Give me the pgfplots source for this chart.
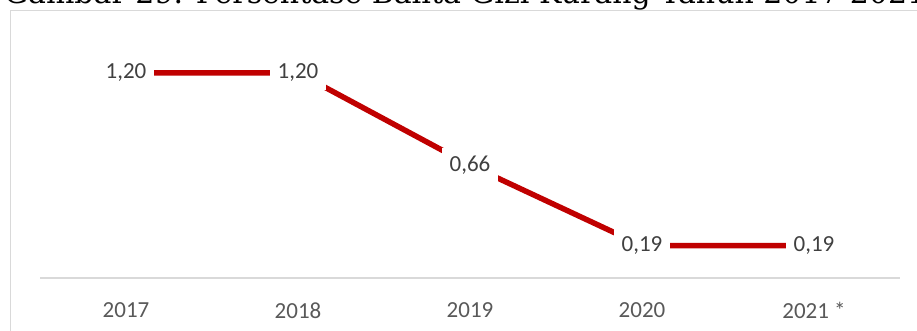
\documentclass[border=0pt]{standalone}
\usepackage{pgfplots}
\pgfplotsset{compat=1.18}
\usepackage{fontspec}
\setmainfont{Carlito}
\newfontfamily\titlefont{DejaVu Serif}
\definecolor{linered}{HTML}{C00000}
\definecolor{labelgray}{HTML}{404040}
\definecolor{tickgray}{HTML}{595959}
\definecolor{framegray}{HTML}{D9D9D9}

\begin{document}
\begin{tikzpicture}[x=1bp,y=1bp]
\useasboundingbox (0,0) rectangle (917,330);
\clip (0,0) rectangle (917,330);
% chart frame (only left and top edges are in view)
\draw[framegray, line width=1.2bp] (10.5,-10) -- (10.5,319.5) -- (930,319.5);
% title, cut off by the top edge
\node[anchor=base west, inner sep=0pt, font=\titlefont\fontsize{30bp}{32bp}\selectfont]
  at (4,327) {Gambar 29. Persentase Balita Gizi Kurang Tahun 2017-2021};
\begin{axis}[
    at={(40bp,52bp)}, anchor=south west,
    scale only axis,
    width=860bp, height=239.4bp,
    xmin=-0.5, xmax=4.5,
    ymin=0, ymax=1.4,
    axis x line*=bottom,
    axis y line=none,
    x axis line style={draw=framegray, line width=1.5bp, -},
    xtick=data,
    xticklabels={2017,2018,2019,2020,2021 *},
    major tick length=0pt,
    xticklabel style={font=\fontsize{23bp}{26bp}\selectfont, text=tickgray, yshift=-21bp},
    clip=false,
    nodes near coords,
    nodes near coords align={center},
    every node near coord/.append style={
        anchor=center, fill=white, text=labelgray,
        inner xsep=8bp, inner ysep=8bp,
        font=\fontsize{23bp}{26bp}\selectfont},
    /pgf/number format/.cd, fixed, fixed zerofill, precision=2, use comma,
    assume math mode=true,
]
\addplot[linered, line width=5.5bp, mark=none] coordinates {
  (0,1.20) (1,1.20) (2,0.66) (3,0.19) (4,0.19)
};
\end{axis}
\end{tikzpicture}
\end{document}
